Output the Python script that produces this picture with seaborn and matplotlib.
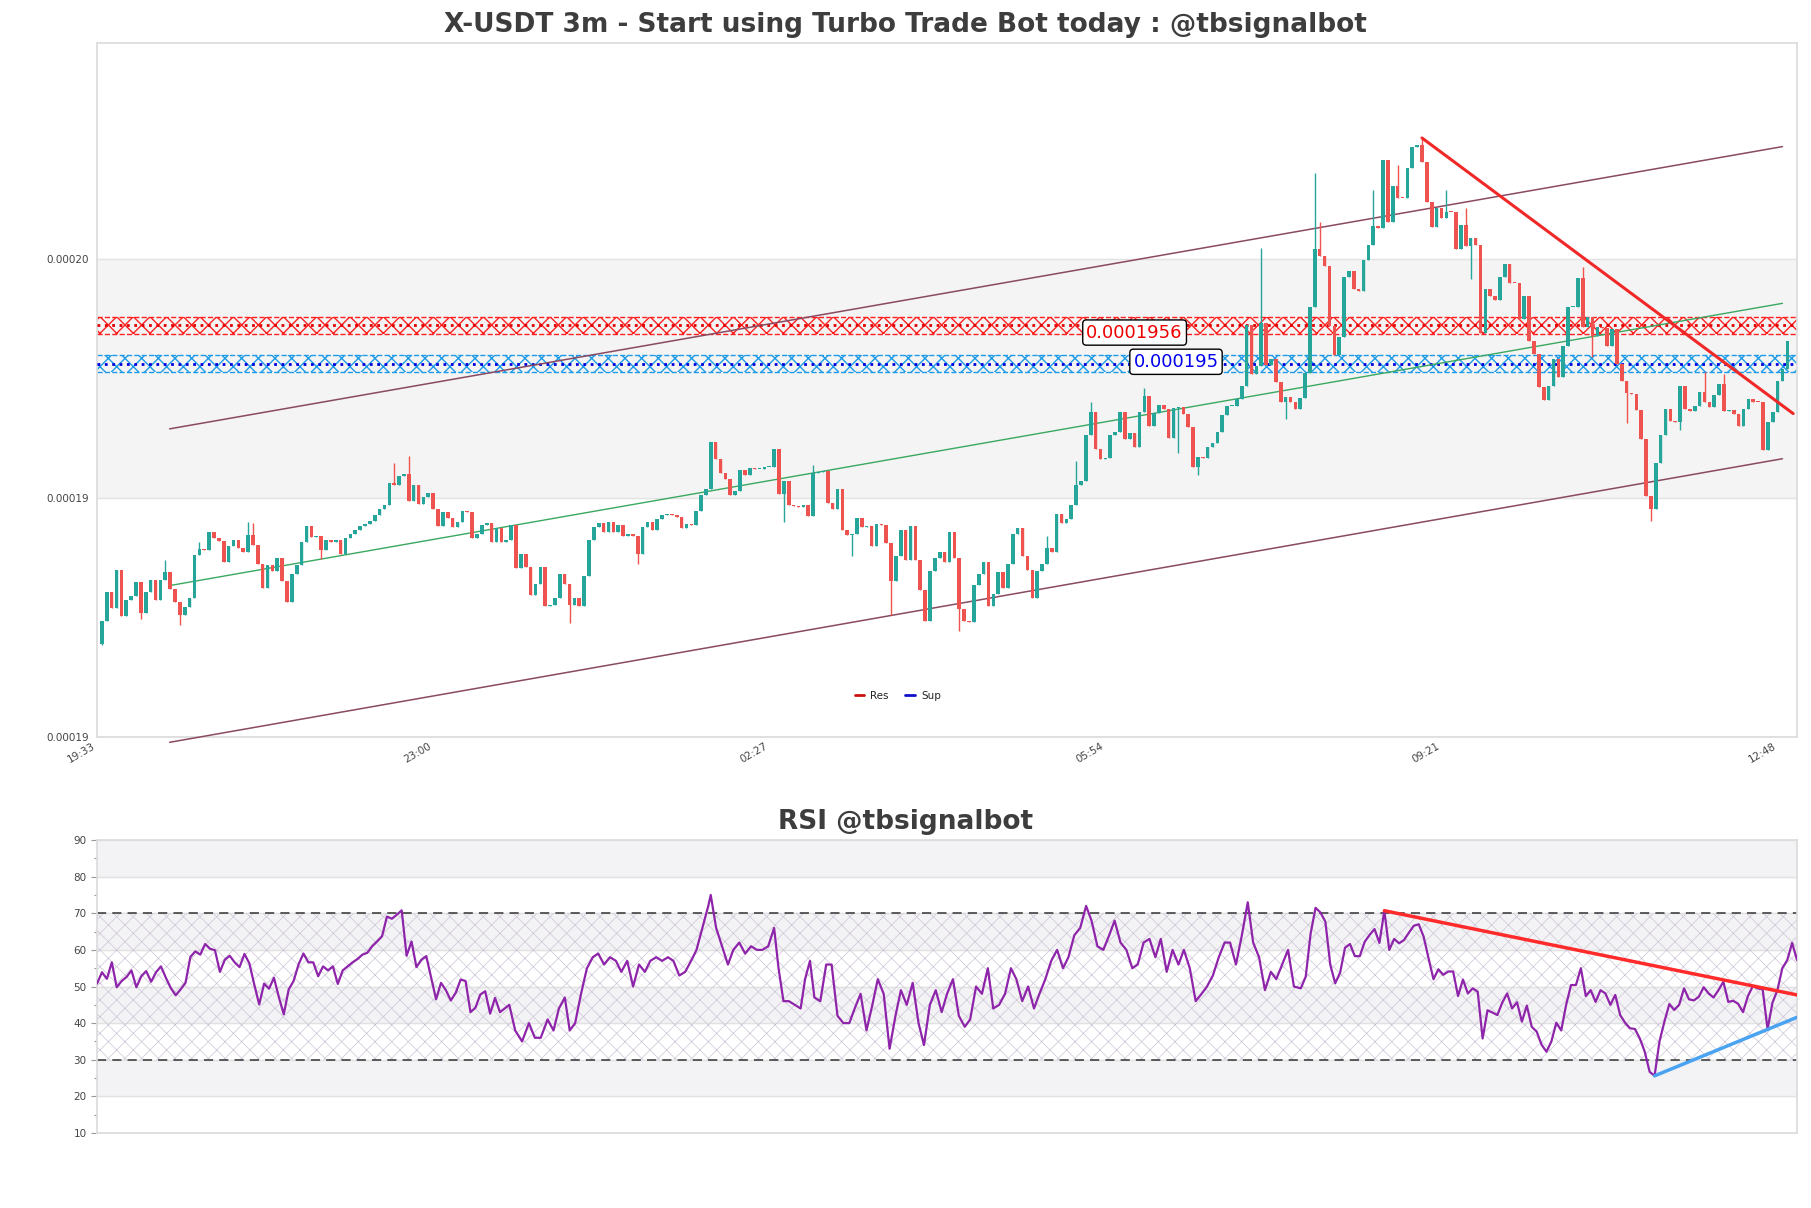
import matplotlib
matplotlib.use("Agg")
import matplotlib.pyplot as plt
from matplotlib.lines import Line2D
from matplotlib.ticker import MultipleLocator, FormatStrFormatter
import numpy as np
import pandas as pd
import seaborn as sns

# prices are kept in units of 1e-8
UNIT = 1e-8
first_open = 19080
closes = [
    19115, 19158, 19134, 19191, 19122, 19146, 19152, 19173, 19126, 19159,
    19176, 19146, 19176, 19189, 19163, 19144, 19124, 19135, 19150, 19214,
    19223, 19221, 19248, 19240, 19235, 19203, 19227, 19236, 19225, 19218,
    19244, 19229, 19200, 19164, 19199, 19190, 19209, 19175, 19144, 19186,
    19199, 19234, 19258, 19241, 19242, 19222, 19237, 19233, 19237, 19216,
    19239, 19245, 19252, 19258, 19260, 19265, 19275, 19283, 19290, 19323,
    19320, 19333, 19336, 19296, 19320, 19291, 19302, 19308, 19283, 19258,
    19279, 19270, 19256, 19264, 19280, 19279, 19240, 19245, 19259, 19262,
    19234, 19254, 19233, 19237, 19259, 19194, 19216, 19196, 19154, 19170,
    19196, 19137, 19139, 19149, 19186, 19171, 19139, 19149, 19138, 19183,
    19236, 19256, 19262, 19248, 19264, 19249, 19259, 19242, 19246, 19243,
    19216, 19256, 19264, 19251, 19269, 19274, 19276, 19274, 19272, 19254,
    19260, 19259, 19281, 19305, 19313, 19384, 19358, 19338, 19328, 19304,
    19311, 19342, 19334, 19345, 19343, 19344, 19346, 19347, 19374, 19306,
    19326, 19290, 19288, 19286, 19289, 19273, 19338, 19339, 19340, 19293,
    19284, 19313, 19251, 19244, 19245, 19270, 19256, 19257, 19227, 19260,
    19259, 19232, 19175, 19212, 19251, 19206, 19258, 19206, 19161, 19114,
    19190, 19210, 19218, 19204, 19248, 19210, 19132, 19115, 19113, 19169,
    19186, 19203, 19137, 19156, 19189, 19165, 19200, 19245, 19254, 19213,
    19191, 19150, 19190, 19200, 19224, 19219, 19276, 19262, 19269, 19289,
    19319, 19325, 19395, 19429, 19374, 19358, 19360, 19395, 19400, 19429,
    19388, 19398, 19377, 19430, 19454, 19409, 19428, 19440, 19434, 19390,
    19436, 19437, 19426, 19407, 19347, 19362, 19360, 19377, 19383, 19399,
    19425, 19438, 19439, 19449, 19468, 19560, 19486, 19499, 19564, 19500,
    19509, 19474, 19445, 19452, 19444, 19434, 19450, 19488, 19587, 19675,
    19665, 19649, 19559, 19515, 19543, 19632, 19641, 19614, 19612, 19659,
    19681, 19709, 19707, 19809, 19716, 19770, 19752, 19751, 19797, 19829,
    19831, 19806, 19746, 19708, 19737, 19722, 19731, 19730, 19675, 19711,
    19679, 19692, 19681, 19548, 19614, 19604, 19598, 19632, 19652, 19624,
    19623, 19570, 19604, 19536, 19516, 19467, 19447, 19469, 19509, 19482,
    19529, 19587, 19588, 19631, 19557, 19572, 19544, 19557, 19556, 19529,
    19554, 19502, 19476, 19458, 19457, 19433, 19389, 19303, 19284, 19353,
    19394, 19434, 19416, 19415, 19468, 19434, 19431, 19439, 19460, 19444,
    19437, 19455, 19472, 19431, 19432, 19426, 19409, 19434, 19449, 19445,
    19444, 19372, 19414, 19429, 19476, 19494, 19536,
]
# longer wicks (candle index -> price)
wick_high = {13: 19206, 20: 19234, 30: 19263, 31: 19262, 60: 19353, 63: 19363,
             146: 19350, 194: 19242, 200: 19355, 203: 19444, 214: 19465,
             238: 19677, 249: 19790, 250: 19716, 261: 19764, 266: 19801,
             271: 19842, 276: 19764, 280: 19737, 304: 19647, 329: 19489,
             333: 19486}
wick_low = {0: 19078, 8: 19118, 16: 19109, 45: 19208, 96: 19111, 110: 19201,
            140: 19264, 154: 19213, 162: 19124, 176: 19099, 221: 19368,
            225: 19335, 243: 19419, 281: 19629, 306: 19512, 313: 19413,
            318: 19266, 324: 19403}

time_labels = ['19:33', '23:00', '02:27', '05:54', '09:21', '12:48']
tick_pos = [-1, 68, 137, 206, 275, 344]

price_ticks = [18940, 19300, 19660]
price_lim = (18940, 19985)

res_level = 19560
sup_level = 19502
band_half = 13

chan_x = [13.9, 345.0]
chan_upper = [19404, 19829]
chan_mid = [19168, 19593]
chan_lower = [18932, 19359]

down_x = [271, 347.2]
down_y = [19842, 19427]

# RSI
rsi_left = [
    50.8, 53.9, 52.1, 56.6, 49.8, 51.5, 52.6, 54.4, 49.8, 52.8,
    54.2, 51.3, 53.9, 55.5, 52.4, 49.6, 47.6, 49.2, 51.0, 58.1,
    59.6, 58.7, 61.6, 60.3, 59.9, 54.0, 57.3, 58.4, 56.6, 55.3,
    58.9, 56.3, 50.5, 45.1, 50.8, 49.4, 52.4, 47.1, 42.4, 49.2,
    51.5, 56.0, 59.0, 56.6, 56.6, 52.8, 55.5, 54.4, 55.5, 50.7,
    54.4, 55.5, 56.6, 57.5, 58.7, 59.2, 61.0, 62.3, 63.7, 69.1,
    68.5, 69.6, 70.8, 58.4, 62.3, 55.3, 57.3, 58.3, 52.4, 46.5,
    51.0, 49.0, 46.2, 48.3, 51.9, 51.5, 43.0, 44.2, 47.8, 48.7,
    42.6, 46.9, 43.0,
]
rsi_mid_x = [
    83.9, 85.1, 86.5, 87.9, 89.1, 90.3, 91.7, 92.9, 94.0, 95.2, 96.2, 97.3,
    98.5, 99.7, 100.9, 102.0, 103.2, 104.4, 105.6, 106.7, 107.9, 109.1,
    110.3, 111.5, 112.6, 113.8, 115.0, 116.2, 117.3, 118.5, 119.7, 120.9,
    122.0, 123.2, 124.4, 124.9, 126.0, 127.2, 128.4, 129.5, 130.7, 131.9,
    133.1, 134.3, 135.4, 136.6, 137.8, 138.7, 139.7, 140.8, 142.0, 143.2,
    144.1, 145.1, 146.0, 147.2, 148.4, 149.5, 150.7, 151.9, 153.1, 154.2,
    155.4, 156.6, 157.8, 158.9, 160.1, 161.3, 162.5, 163.6, 164.8, 166.0,
    167.2, 168.3, 169.5, 170.7, 171.9, 173.0, 174.2, 175.4, 176.6, 177.7,
    178.9, 180.1, 181.3, 182.4, 183.6, 184.8, 186.0, 187.1, 188.3, 189.5,
    190.7, 191.8, 193.0, 194.2, 195.4, 196.6, 197.7, 198.9, 200.1, 201.3,
    202.4, 203.6, 204.8, 206.0, 207.1, 208.3, 209.5, 210.7, 211.8, 213.0,
    214.2, 215.4, 216.5, 217.7, 218.9, 220.1, 221.2, 222.4, 223.6, 224.8,
    225.9, 227.1, 228.3, 229.5, 230.6, 231.8, 233.0, 234.2, 235.3, 236.5,
    237.7, 238.9, 240.0, 241.2, 242.4, 243.6,
]
rsi_mid = [
    45, 38, 35, 40, 36, 36, 41, 38, 44, 47, 38, 40,
    48, 55, 58, 59, 56, 58, 57, 54, 57, 50,
    56, 54, 57, 58, 57, 58, 57, 53, 54, 57,
    60, 66, 72, 75, 66, 61, 56, 60, 62, 59,
    61, 60, 60, 61, 66, 55, 46, 46, 45, 44,
    52, 57, 47, 46, 56, 56, 42, 40, 40, 44,
    48, 38, 45, 52, 48, 33, 42, 49, 45, 51,
    40, 34, 45, 49, 43, 48, 52, 42, 39, 41,
    50, 48, 55, 44, 45, 48, 55, 52, 46, 50,
    44, 48, 52, 57, 60, 55, 58, 64, 66, 72,
    68, 61, 60, 64, 68, 62, 60, 55, 56, 62,
    63, 58, 63, 54, 60, 56, 60, 55, 46, 48,
    50, 53, 58, 62, 62, 56, 64, 73, 62, 58,
    49, 54, 52, 56, 60, 50,
]
rsi_right = [
    49.5, 52.7, 64.5, 71.5, 70.2, 67.7, 55.9, 50.9, 53.8, 60.6,
    61.6, 58.3, 58.3, 62.2, 64.1, 65.7, 61.9, 70.7, 60.0, 63.0,
    61.8, 62.7, 64.7, 66.6, 67.0, 63.6, 57.7, 52.0, 54.7, 53.2,
    54.1, 54.1, 47.4, 51.9, 48.1, 49.5, 48.6, 35.8, 43.5, 42.9,
    42.2, 45.6, 48.1, 44.0, 45.7, 40.4, 44.8, 39.0, 37.7, 34.1,
    32.2, 35.0, 40.1, 38.0, 45.0, 50.4, 50.4, 55.0, 47.4, 49.0,
    45.8, 49.0, 48.1, 45.0, 47.7, 42.2, 40.1, 38.6, 38.4, 35.8,
    32.2, 26.7, 25.6, 35.0, 40.4, 45.2, 43.6, 45.0, 49.5, 46.5,
    46.2, 47.2, 49.8, 48.1, 47.0, 49.0, 51.3, 45.8, 46.1, 45.3,
    43.0, 47.4, 50.1, 49.5, 49.2, 38.3, 45.6, 49.0, 55.0, 57.2,
    61.9, 57.2,
]
rsi_res_x = [262, 346]
rsi_res_y = [70.7, 47.7]
rsi_sup_x = [317, 346]
rsi_sup_y = [25.6, 41.6]

GREEN = '#26a69a'
RED = '#ef5350'
TITLE_X = 0.4756  # figure centre, in axes fraction

sns.set_theme(style="white")
plt.rcParams['font.family'] = ['DejaVu Sans']

fig = plt.figure(figsize=(18.11, 12.08), dpi=100)
ax = fig.add_axes([0.0536, 0.3899, 0.9387, 0.5745])
ax2 = fig.add_axes([0.0536, 0.0621, 0.9387, 0.2425])

# ---- price panel ----
c = np.array(closes, dtype=float)
o = np.r_[first_open, c[:-1]]
h = np.maximum(o, c)
l = np.minimum(o, c)
for i, v in wick_high.items():
    h[i] = max(h[i], v)
for i, v in wick_low.items():
    l[i] = min(l[i], v)
x = np.arange(len(c))
col = np.where(c >= o, GREEN, RED)

ax.vlines(x, l * UNIT, h * UNIT, colors=col, lw=1, zorder=4)
body = np.maximum(np.abs(c - o), 1.5)
ax.bar(x, body * UNIT, bottom=np.minimum(o, c) * UNIT, width=0.74,
       color=col, lw=0, zorder=5)

# background bands
ax.axhspan(price_ticks[1] * UNIT, price_ticks[2] * UNIT, color='#f4f4f4', zorder=0)
for t in price_ticks:
    ax.axhline(t * UNIT, color='#e3e3e3', lw=1, zorder=0.5)

# resistance / support zones
plt.rcParams['hatch.linewidth'] = 1.0
for lvl, hatch_col, line_col in [(res_level, '#ff2020', '#e00000'),
                                 (sup_level, '#1e9be6', '#0000dd')]:
    lo, hi = (lvl - band_half) * UNIT, (lvl + band_half) * UNIT
    ax.fill_between([-1, 349], lo, hi, facecolor='none', edgecolor=hatch_col,
                    hatch='xx', lw=0, zorder=2)
    ax.axhline(lo, color=hatch_col, ls='--', lw=1, zorder=2)
    ax.axhline(hi, color=hatch_col, ls='--', lw=1, zorder=2)
    ax.axhline(lvl * UNIT, color=line_col, ls=':', lw=2, zorder=3)

ax.text(212, (res_level - 11) * UNIT, f"{round(res_level * UNIT, 7)}", color='#ee0000',
        fontsize=13, ha='center', va='center', zorder=7,
        bbox=dict(boxstyle='round,pad=0.2', fc='white', ec='black', lw=1))
ax.text(220.5, (sup_level + 3) * UNIT, f"{round(sup_level * UNIT, 7)}", color='#0000ee',
        fontsize=13, ha='center', va='center', zorder=7,
        bbox=dict(boxstyle='round,pad=0.2', fc='white', ec='black', lw=1))

# channel
chan = pd.DataFrame({'x': chan_x, 'up': np.array(chan_upper) * UNIT,
                     'mid': np.array(chan_mid) * UNIT, 'low': np.array(chan_lower) * UNIT})
sns.lineplot(data=chan, x='x', y='up', ax=ax, color='#8a4a62', lw=1.1, zorder=3)
sns.lineplot(data=chan, x='x', y='low', ax=ax, color='#8a4a62', lw=1.1, zorder=3, clip_on=False)
sns.lineplot(data=chan, x='x', y='mid', ax=ax, color='#3aa860', lw=1.0, zorder=3)
ax.plot(down_x, np.array(down_y) * UNIT, color='#f02828', lw=2.2, zorder=6)

handles = [Line2D([], [], color='#cc1111', lw=2), Line2D([], [], color='#1111cc', lw=2)]
ax.legend(handles, ['Res', 'Sup'], loc='center', bbox_to_anchor=(0.471, 0.059), ncol=2,
          frameon=False, fontsize=7.5, handlelength=0.9, columnspacing=1.6, handletextpad=0.6)

ax.set_xlim(-1, 348)
ax.set_ylim(price_lim[0] * UNIT, price_lim[1] * UNIT)
ax.set_yticks(np.array(price_ticks) * UNIT)
ax.yaxis.set_major_formatter(FormatStrFormatter('%.5f'))
ax.set_xticks(tick_pos)
ax.set_xticklabels(time_labels, rotation=30, ha='right', fontsize=7.5, color='#444444')
ax.tick_params(axis='y', labelsize=7.5, labelcolor='#444444', length=0, pad=6)
ax.tick_params(axis='x', length=0, pad=3)
ax.set_xlabel('')
ax.set_ylabel('')
for s in ax.spines.values():
    s.set_color('#dcdcdc')
ax.set_title('X-USDT 3m - Start using Turbo Trade Bot today : @tbsignalbot',
             fontsize=19, fontweight='bold', color='#3d3d3d', pad=8, x=TITLE_X)

# ---- RSI panel ----
rsi = pd.DataFrame({'i': list(range(len(rsi_left))) + rsi_mid_x +
                         list(range(245, 245 + len(rsi_right))),
                    'rsi': rsi_left + rsi_mid + rsi_right})
for lo in (80, 60, 40, 20):
    ax2.axhspan(lo, lo + 10, color='#f3f3f5', zorder=0)
for t in range(10, 91, 10):
    ax2.axhline(t, color='#e2e2e2', lw=1, zorder=0.5)
plt.rcParams['hatch.linewidth'] = 0.5
ax2.fill_between([0, 346], 30, 70, facecolor='none', edgecolor='#cdc4d6',
                 hatch='xx', lw=0, zorder=1)
ax2.axhline(70, color='#333333', ls=(0, (6, 4)), lw=1.1, zorder=2)
ax2.axhline(30, color='#333333', ls=(0, (6, 4)), lw=1.1, zorder=2)
sns.lineplot(data=rsi, x='i', y='rsi', ax=ax2, color='#8e24aa', lw=1.6, zorder=5)
ax2.plot(rsi_res_x, rsi_res_y, color='#ff2a2a', lw=2.5, zorder=6)
ax2.plot(rsi_sup_x, rsi_sup_y, color='#4aa3f0', lw=2.5, zorder=6)

ax2.set_xlim(0, 346)
ax2.set_ylim(10, 90)
ax2.set_yticks(range(10, 91, 10))
ax2.yaxis.set_minor_locator(MultipleLocator(5))
ax2.tick_params(axis='y', which='major', labelsize=7.5, length=4, width=0.8,
                color='#999999', labelcolor='#444444', left=True)
ax2.tick_params(axis='y', which='minor', length=2.5, width=0.8, color='#999999', left=True)
ax2.set_xticks([])
ax2.set_xlabel('')
ax2.set_ylabel('')
for s in ax2.spines.values():
    s.set_color('#dcdcdc')
ax2.set_title('RSI @tbsignalbot', fontsize=19, fontweight='bold', color='#3d3d3d',
              pad=8, x=TITLE_X)

fig.savefig('out.png', dpi=100)
